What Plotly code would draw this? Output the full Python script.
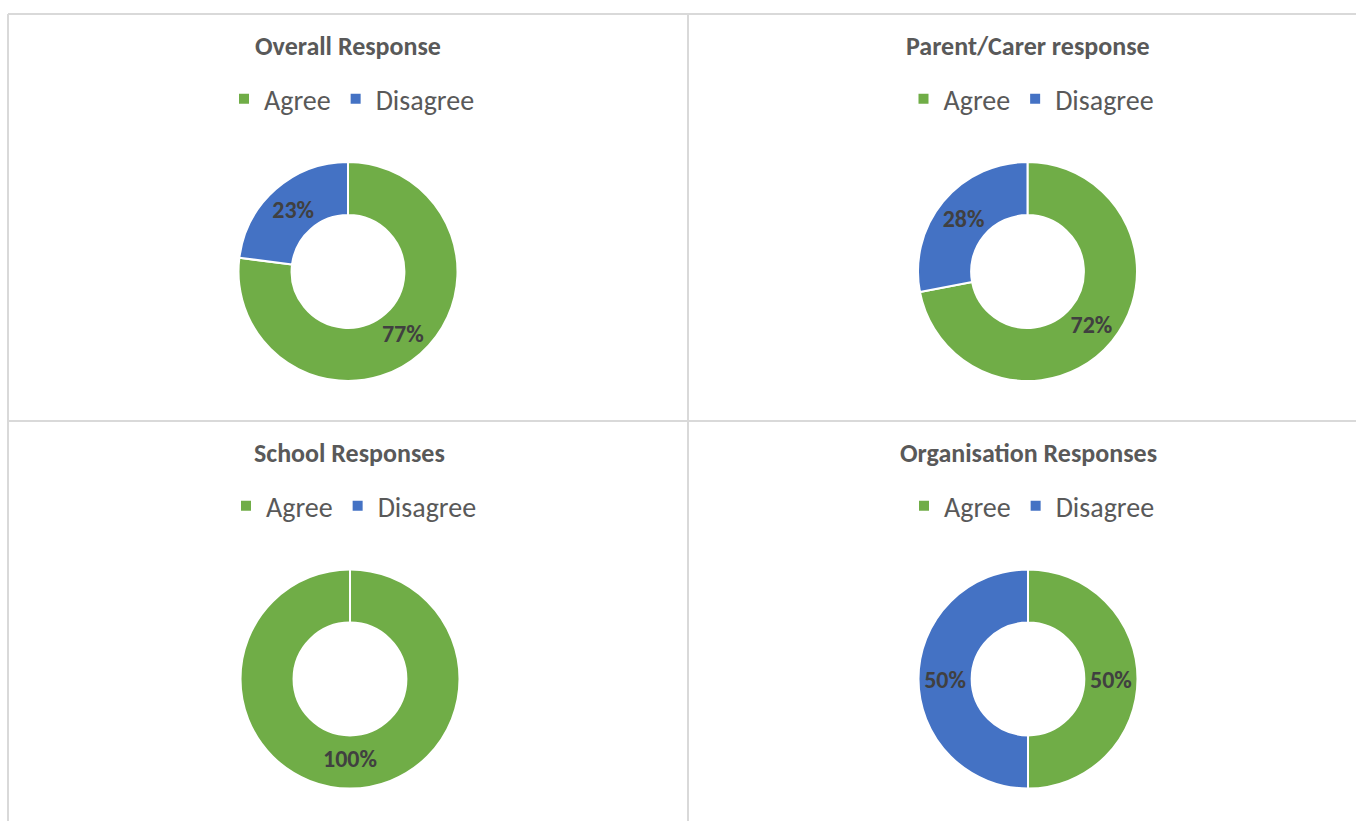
import plotly.graph_objects as go

W, H = 1356, 821

categories = ["Agree", "Disagree"]
titles = ["Overall Response", "Parent/Carer response", "School Responses", "Organisation Responses"]
overall = [77, 23]
parent_carer = [72, 28]
school = [100, 0]
organisation = [50, 50]
series = [overall, parent_carer, school, organisation]

colors = ["#70AD47", "#4472C4"]
FONT = "Calibri, Carlito, Lato, sans-serif"

# panel layout (pixel centres of donuts, title & legend rows)
centers = [(348, 271.5), (1027.5, 271.5), (350, 679), (1028, 679)]
title_y = [46, 46, 453, 453]
legend_y = [99, 99, 506, 506]
R = 109.5

def px(x):
    return x / W

def py(y):
    return 1 - y / H

fig = go.Figure()
legend_names = ["legend", "legend2", "legend3", "legend4"]
for i, (vals, (cx, cy)) in enumerate(zip(series, centers)):
    texts = [f"{v}%" if v > 0 else "" for v in vals]
    fig.add_trace(go.Pie(
        labels=categories,
        values=vals,
        text=texts,
        textinfo="text",
        textposition="inside",
        insidetextorientation="horizontal",
        hole=0.515,
        sort=False,
        direction="clockwise",
        rotation=0,
        marker=dict(colors=colors, line=dict(color="white", width=2)),
        textfont=dict(family=FONT, size=24, color="#404040", weight="bold"),
        domain=dict(x=[px(cx - R), px(cx + R)], y=[py(cy + R), py(cy - R)]),
        legend=legend_names[i],
        legendgroup=f"panel{i}",
        showlegend=True,
    ))

layout_legends = {}
for i, name in enumerate(legend_names):
    cx = centers[i][0]
    layout_legends[name] = dict(
        orientation="h",
        traceorder="normal",
        x=px(cx + 4), xanchor="center",
        y=py(legend_y[i]), yanchor="middle",
        font=dict(family=FONT, size=28, color="#595959"),
        bgcolor="rgba(0,0,0,0)",
        itemclick=False, itemdoubleclick=False,
    )

annotations = []
for i, t in enumerate(titles):
    annotations.append(dict(
        text=f"<b>{t}</b>", x=px(centers[i][0]), y=py(title_y[i]),
        xref="paper", yref="paper", xanchor="center", yanchor="middle",
        showarrow=False, font=dict(family=FONT, size=26, color="#595959"),
    ))

line_color = "#D9D9D9"
shapes = [
    dict(type="line", xref="paper", yref="paper", x0=px(8), x1=1, y0=py(14), y1=py(14), line=dict(color=line_color, width=2)),
    dict(type="line", xref="paper", yref="paper", x0=px(8), x1=1, y0=py(421), y1=py(421), line=dict(color=line_color, width=2)),
    dict(type="line", xref="paper", yref="paper", x0=px(8), x1=px(8), y0=py(14), y1=0, line=dict(color=line_color, width=2)),
    dict(type="line", xref="paper", yref="paper", x0=px(688), x1=px(688), y0=py(14), y1=0, line=dict(color=line_color, width=2)),
]

fig.update_layout(
    width=W, height=H,
    margin=dict(l=0, r=0, t=0, b=0),
    paper_bgcolor="white", plot_bgcolor="white",
    annotations=annotations, shapes=shapes,
    **layout_legends,
)

fig.write_html("out.html")
